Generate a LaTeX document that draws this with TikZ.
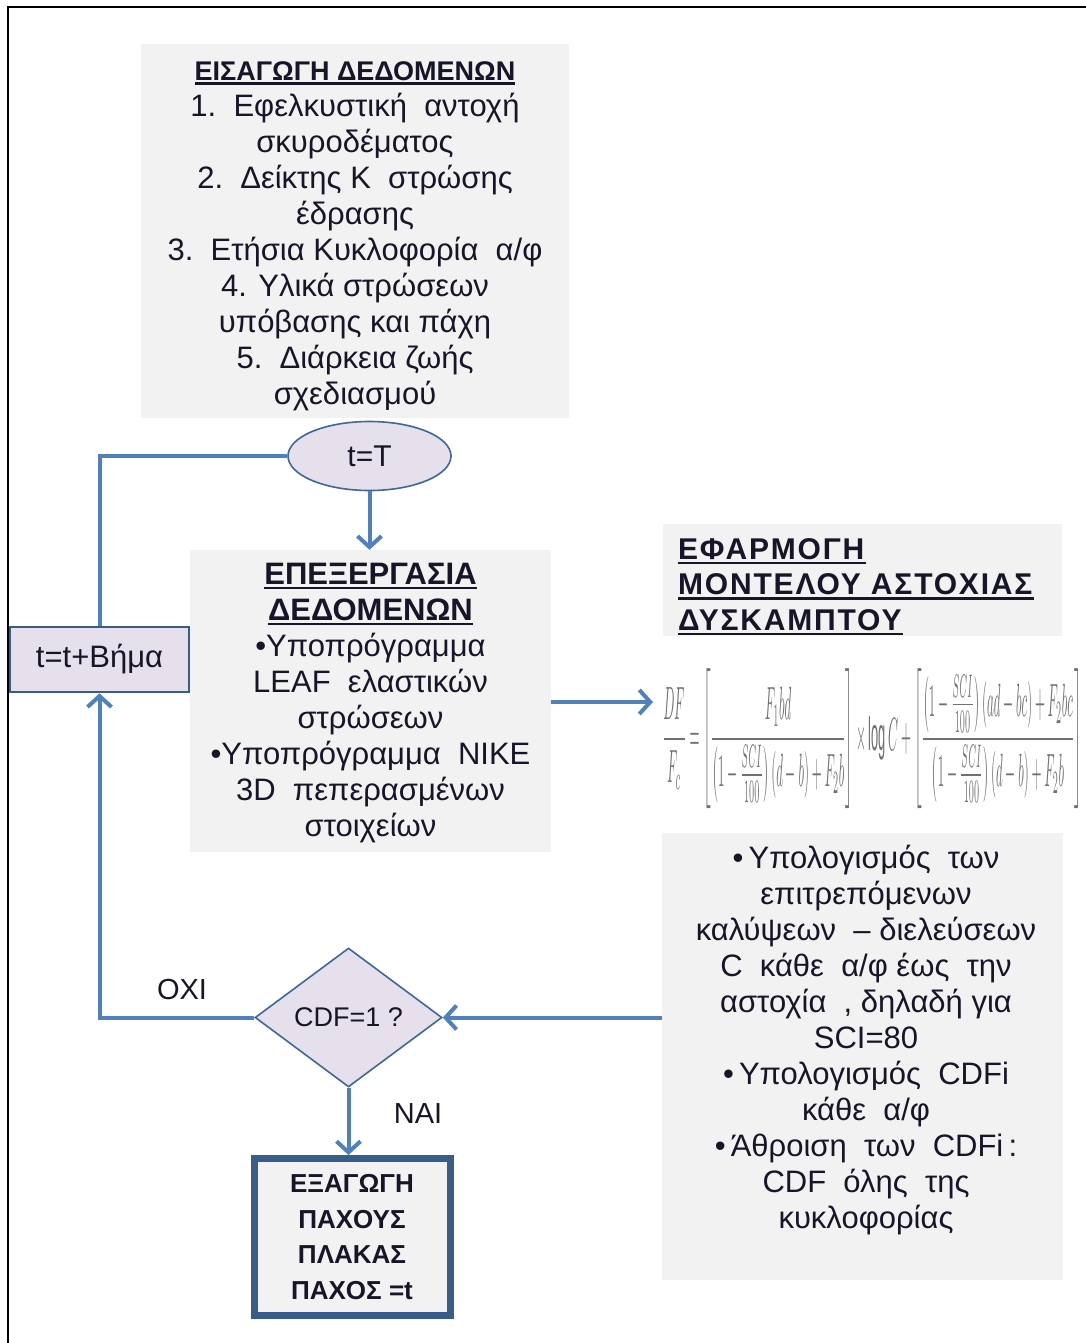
\documentclass[tikz,border=0pt]{standalone}
\usepackage{fontspec}
\setmainfont{Liberation Sans}
\usetikzlibrary{shapes.geometric,arrows.meta}
\definecolor{boxgrey}{HTML}{F2F2F2}
\definecolor{lilac}{HTML}{E6E0EC}
\definecolor{flow}{HTML}{4F81BD}
\definecolor{edge}{HTML}{385D8A}
\definecolor{ink}{HTML}{161628}
\definecolor{formulaink}{HTML}{707070}
% bold heading with a heavy underline
\newcommand{\thickul}[1]{\setbox0\hbox{\textbf{#1}}\rlap{\rule[-5pt]{\wd0}{2.8pt}}\box0}
\begin{document}
\begin{tikzpicture}[x=1pt,y=-1pt,
  greybox/.style={fill=boxgrey, draw=none, inner sep=0pt},
  bodytext/.style={text=ink, align=center, inner sep=0pt,
    font=\fontsize{31}{36}\selectfont},
  lefttext/.style={text=ink, align=left, inner sep=0pt,
    font=\fontsize{30}{35.5}\selectfont\addfontfeature{LetterSpace=6}},
  lilacnode/.style={fill=lilac, draw=flow!80!black, line width=1.6pt, inner sep=0pt, text=ink},
  flowline/.style={draw=flow, line width=4pt},
  arrowline/.style={flowline, -{Straight Barb[length=11pt,width=24pt]}},
  label/.style={text=ink, inner sep=0pt, font=\fontsize{29}{34}\selectfont}]
\useasboundingbox (0,0) rectangle (1086,1343);
\fill[white] (0,0) rectangle (1086,1343);
% frame
\draw[line width=2.2pt, black] (8,1343) -- (8,7) -- (1086,7);

% input data
\node[greybox, minimum width=428, minimum height=374] (inbox) at (355,231) {};
\node[bodytext] (intext) at (355,236) {%
  {\fontsize{27}{36}\selectfont\thickul{ΕΙΣΑΓΩΓΗ ΔΕΔΟΜΕΝΩΝ}}\\
  1.\ \ Εφελκυστική\ \ αντοχή\\
  σκυροδέματος\\
  2.\ \ Δείκτης\ Κ\ \ στρώσης\\
  έδρασης\\
  3.\ \ Ετήσια Κυκλοφορία\ \ α/φ\\
  4. Υλικά στρώσεων\\
  υπόβασης και πάχη\\
  5.\ \ Διάρκεια ζωής\\
  σχεδιασμού};

% start of the time loop
\node[lilacnode, ellipse, minimum width=163, minimum height=69,
  font=\fontsize{30}{34}\selectfont] (tT) at (369.5,456) {t=T};

% data processing
\node[greybox, minimum width=361, minimum height=302] (procbox) at (370.5,701) {};
\node[bodytext] (proctext) at (370.5,703) {%
  \thickul{ΕΠΕΞΕΡΓΑΣΙΑ}\\
  \thickul{ΔΕΔΟΜΕΝΩΝ}\\
  •Υποπρόγραμμα\\
  LEAF\ \ ελαστικών\\
  στρώσεων\\
  •Υποπρόγραμμα\ \ NIKE\\
  3D\ \ πεπερασμένων\\
  στοιχείων};

% failure model heading
\node[greybox, minimum width=399, minimum height=112] (modelbox) at (862.5,580) {};
\node[lefttext, anchor=west] (modeltext) at (678,587) {%
  \thickul{ΕΦΑΡΜΟΓΗ}\\
  \thickul{ΜΟΝΤΕΛΟΥ ΑΣΤΟΧΙΑΣ}\\
  \thickul{ΔΥΣΚΑΜΠΤΟΥ}};

% fatigue equation
\node[inner sep=0pt, text=formulaink] (formula) at (872,739) {%
  \resizebox*{420pt}{140pt}{$\displaystyle
  \frac{DF}{F_c}=\left[\frac{F_1 bd}{\left(1-\frac{SCI}{100}\right)(d-b)+F_2 b}\right]\times\log C+
  \left[\frac{\left(1-\frac{SCI}{100}\right)(ad-bc)+F_2 bc}{\left(1-\frac{SCI}{100}\right)(d-b)+F_2 b}\right]$}};
\coordinate (formulain) at (653,702);

% damage computation
\node[greybox, minimum width=401, minimum height=447] (calcbox) at (862.5,1056.5) {};
\node[bodytext] (calctext) at (866,1040) {%
  •\,Υπολογισμός\ \ των\\
  επιτρεπόμενων\\
  καλύψεων\ \ – διελεύσεων\\
  C\ \ κάθε\ \ α/φ έως\ \ την\\
  αστοχία\ \ , δηλαδή για\\
  SCI=80\\
  •\,Υπολογισμός\ \ CDFi\\
  κάθε\ \ α/φ\\
  •\,Άθροιση\ \ των\ \ CDFi\,:\\
  CDF\ \ όλης\ \ της\\
  κυκλοφορίας};

% decision
\node[lilacnode, diamond, aspect=1.35, minimum width=187, minimum height=139,
  font=\fontsize{27}{32}\selectfont] (cdf) at (348.5,1017.5) {CDF=1 ?};

% time step
\node[lilacnode, draw=edge, line width=2.6pt, minimum width=179, minimum height=65,
  font=\fontsize{31}{34}\selectfont] (step) at (99.5,659.5) {t=t+Βήμα};

% output
\node[fill=boxgrey, draw=edge, line width=7pt, minimum width=196, minimum height=157,
  inner sep=0pt, text=ink, align=center, font=\bfseries\fontsize{26}{35.5}\selectfont]
  (out) at (352,1237) {ΕΞΑΓΩΓΗ\\ΠΑΧΟΥΣ\\ΠΛΑΚΑΣ\\ΠΑΧΟΣ =t};

% connectors
\draw[arrowline] (tT.south) -- (tT.south |- procbox.north);
\draw[arrowline] (procbox.east |- formulain) -- (formulain);
\draw[arrowline] (calcbox.west |- cdf.east) -- (cdf.east);
\draw[arrowline] (cdf.south) -- (cdf.south |- out.north);
\draw[arrowline] (cdf.west) -| (step.south);
\draw[flowline] (step.north) |- (tT.west);

% branch labels
\node[label] (no) at (182,990) {ΟΧΙ};
\node[label] (yes) at (418,1114) {ΝΑΙ};
\end{tikzpicture}
\end{document}
